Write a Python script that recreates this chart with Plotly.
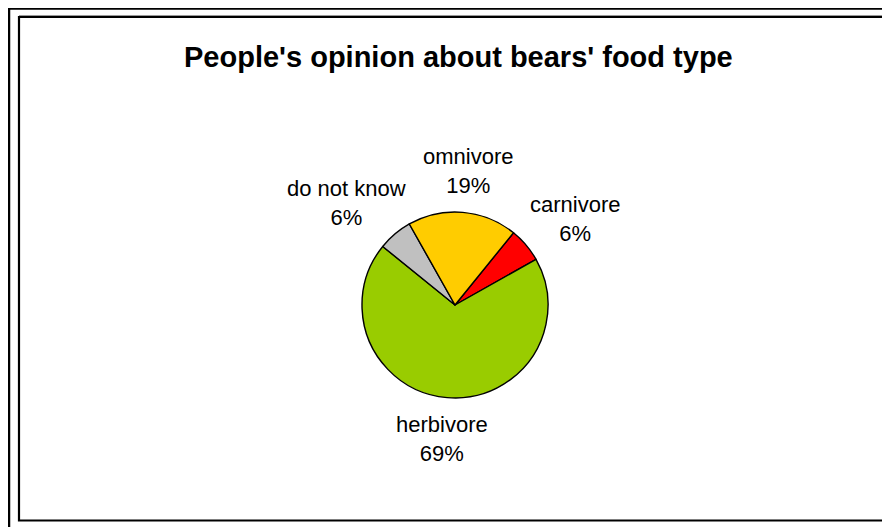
import math
import plotly.graph_objects as go

# ---- data ----
categories = ["carnivore", "herbivore", "do not know", "omnivore"]
values = [6, 69, 6, 19]
colors = ["#FF0000", "#99CC00", "#C0C0C0", "#FFCC00"]
title_text = "People's opinion about bears' food type"

# ---- geometry (window pixels; page body has an 8px margin) ----
OFF = 8
W, H = 882, 519
cx, cy, r = 455, 305, 93
start_angle = 39
font_size = 22
label_gap = 15


def px(x):
    return (x - OFF) / W


def py(y):
    return 1 - (y - OFF) / H


fig = go.Figure(go.Pie(
    labels=categories,
    values=values,
    sort=False,
    direction="clockwise",
    rotation=start_angle,
    marker=dict(colors=colors, line=dict(color="black", width=1.4)),
    textinfo="none",
    hoverinfo="label+percent",
    domain=dict(x=[px(cx - r), px(cx + r)], y=[py(cy + r), py(cy - r)]),
    showlegend=False,
))

# labels placed outside each slice, derived from the slice's mid angle
total = sum(values)
annotations = []
acc = 0
for lab, v in zip(categories, values):
    mid = math.radians(start_angle + 360 * (acc + v / 2) / total)
    acc += v
    pct = f"{round(100 * v / total)}%"
    text = f"{lab}<br>{pct}"
    hw = max(len(lab), len(pct)) * 11 / 2
    hh = 26
    s, c = math.sin(mid), math.cos(mid)
    X = cx + (r + label_gap) * s + hw * s
    Y = cy - (r + label_gap) * c - hh * c
    annotations.append(dict(
        text=text, x=px(X), y=py(Y), xref="paper", yref="paper",
        xanchor="center", yanchor="middle", showarrow=False, align="center",
        font=dict(family="Liberation Sans, Arial", size=font_size, color="black"),
    ))

annotations.append(dict(
    text="<b>" + title_text + "</b>", x=px(458), y=py(57), xref="paper", yref="paper",
    xanchor="center", yanchor="middle", showarrow=False,
    font=dict(family="Liberation Sans, Arial", size=29, color="black"),
))

shapes = [
    # outer frame
    dict(type="rect", xref="paper", yref="paper", x0=px(9), y0=py(560), x1=px(920), y1=py(8.5),
         line=dict(color="black", width=2.5), fillcolor="rgba(0,0,0,0)"),
    # inner frame shadow
    dict(type="line", xref="paper", yref="paper", x0=px(19), y0=py(15.5), x1=px(920), y1=py(15.5),
         line=dict(color="#999999", width=1)),
    # inner frame
    dict(type="rect", xref="paper", yref="paper", x0=px(19), y0=py(520.5), x1=px(920), y1=py(17),
         line=dict(color="black", width=2.2), fillcolor="rgba(0,0,0,0)"),
]

fig.update_layout(
    width=W, height=H,
    margin=dict(l=0, r=0, t=0, b=0),
    paper_bgcolor="white",
    plot_bgcolor="white",
    shapes=shapes,
    annotations=annotations,
)

fig.write_html("out.html")
